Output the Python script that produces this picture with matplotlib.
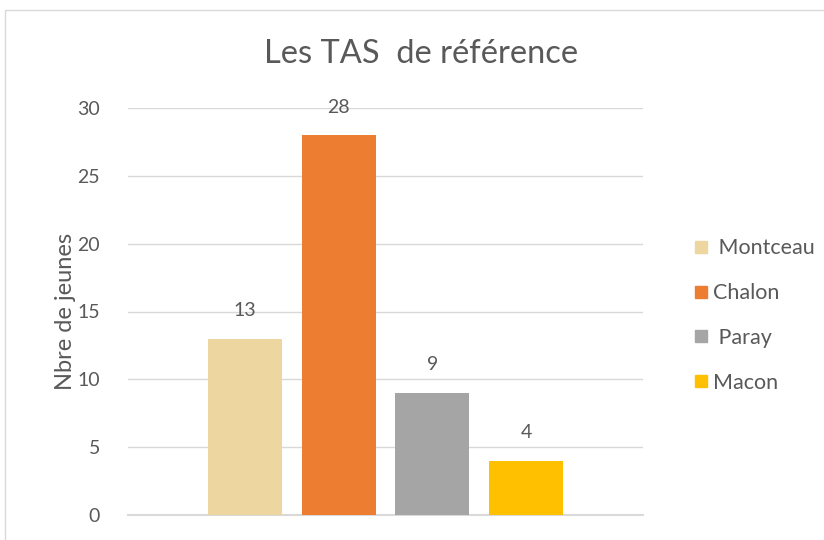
import matplotlib
matplotlib.use("Agg")
import matplotlib.pyplot as plt
from matplotlib.patches import Rectangle
from matplotlib.lines import Line2D

title = "Les TAS  de référence"
ylabel = "Nbre de jeunes"
series = ["Montceau", "Chalon", "Paray", "Macon"]
legend_labels = [" Montceau", "Chalon", " Paray", "Macon"]
values = [13, 28, 9, 4]
colors = ["#EDD6A0", "#ED7D31", "#A5A5A5", "#FFC000"]
yticks = [0, 5, 10, 15, 20, 25, 30]

plt.rcParams['font.family'] = ['Lato', 'DejaVu Sans']
txt = "#595959"

fig = plt.figure(figsize=(8.24, 5.40), dpi=100)
W, H = 824, 540
ax = fig.add_axes([128 / W, 1 - 515 / H, (643 - 128) / W, (515 - 108) / H])

x = list(range(len(series)))
bars = ax.bar(x, values, width=0.79, color=colors, zorder=3)
for xi, v in zip(x, values):
    ax.annotate(str(v), (xi, v), xytext=(0, 14), textcoords="offset points",
                ha="center", va="bottom", fontsize=14, color=txt)

ax.set_xlim(-1.245, 4.245)
ax.set_ylim(0, 30)
ax.set_yticks(yticks)
ax.set_yticklabels([str(t) for t in yticks], fontsize=14, color=txt)
ax.set_xticks([])
ax.tick_params(axis="y", length=0, pad=20)
ax.grid(axis="y", color="#D9D9D9", linewidth=1, zorder=0)
for s in ["top", "right", "left"]:
    ax.spines[s].set_visible(False)
ax.spines["bottom"].set_color("#D9D9D9")
ax.spines["bottom"].set_linewidth(1.5)
ax.set_ylabel(ylabel, fontsize=17, color=txt, labelpad=1)

fig.text(421 / W, 1 - 54 / H, title, ha="center", va="center", fontsize=23.5, color=txt)

handles = [Line2D([0], [0], marker="s", linestyle="none", markersize=9,
                  markerfacecolor=c, markeredgecolor=c) for c in colors]
leg = fig.legend(handles, legend_labels, loc="upper left",
                 bbox_to_anchor=(673 / W, 1 - 219 / H), frameon=False,
                 fontsize=15.5, labelcolor=txt, labelspacing=1.15,
                 handlelength=0.8, handletextpad=0.15)

fig.patches.append(Rectangle((5 / W, -0.1), 1.2, 1 - 10 / H + 0.1,
                             transform=fig.transFigure, fill=False,
                             edgecolor="#D9D9D9", linewidth=1))

fig.savefig("out.png", dpi=100)
